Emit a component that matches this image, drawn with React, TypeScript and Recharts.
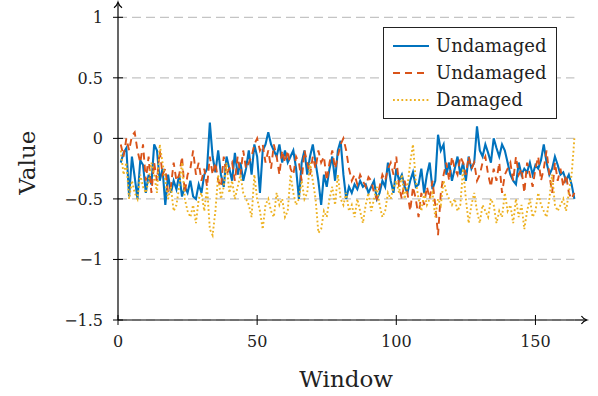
import { LineChart, Line, XAxis, YAxis, CartesianGrid, Legend, Label } from "recharts";

const undamagedA = [
  -0.2, -0.12, -0.08, -0.48, -0.15, -0.32, -0.5, -0.18, -0.22, -0.45,
  -0.3, -0.38, -0.05, -0.1, -0.35, -0.25, -0.55, -0.3, -0.45, -0.35,
  -0.42, -0.3, -0.48, -0.4, -0.45, -0.35, -0.48, -0.5, -0.38, -0.45,
  -0.3, -0.25, 0.13, -0.15, -0.28, -0.1, -0.3, -0.4, -0.15, -0.25,
  -0.35, -0.12, -0.3, -0.2, -0.35, -0.25, -0.1, -0.3, -0.05, -0.15,
  -0.45, -0.1, -0.05, 0.05, -0.05, -0.1, -0.15, -0.05, -0.2, -0.1,
  -0.2, -0.15, -0.1, -0.25, -0.5, -0.2, -0.1, -0.3, -0.15, -0.05,
  -0.2, -0.35, -0.55, -0.3, -0.4, -0.25, -0.15, -0.35, -0.1, -0.02,
  -0.3, -0.5, -0.4, -0.45, -0.38, -0.42, -0.35, -0.4, -0.38, -0.45,
  -0.4, -0.35, -0.5, -0.45, -0.35, -0.4, -0.2, -0.35, -0.45, -0.25,
  -0.35, -0.3, -0.4, -0.45, -0.35, -0.28, -0.4, -0.38, -0.25, -0.45,
  -0.3, -0.2, -0.42, -0.35, 0.03, -0.1, -0.05, -0.3, -0.2, -0.35,
  -0.25, -0.15, -0.3, -0.2, -0.35, -0.15, -0.25, -0.2, 0.1, -0.1,
  -0.15, -0.05, -0.12, -0.2, 0.0, -0.08, -0.15, -0.05, -0.1, -0.2,
  -0.3, -0.35, -0.38, -0.2, -0.3, -0.25, -0.28, -0.2, -0.3, -0.22,
  -0.25, -0.18, -0.05, -0.2, -0.3, -0.25, -0.15, -0.22, -0.3, -0.28,
  -0.35, -0.3, -0.38, -0.5,
];

const undamagedB = [
  -0.05, -0.15, 0.0, -0.1, 0.02, 0.05, -0.1, -0.2, -0.05, -0.35,
  -0.15, -0.45, -0.2, -0.35, -0.1, -0.3, -0.25, -0.45, -0.4, -0.2,
  -0.35, -0.3, -0.15, -0.45, -0.3, -0.25, -0.1, -0.3, -0.2, -0.35,
  -0.25, -0.4, -0.15, -0.3, -0.2, -0.35, -0.4, -0.15, -0.3, -0.25,
  -0.2, -0.35, -0.15, -0.3, -0.1, -0.25, -0.2, -0.15, -0.05, 0.0,
  -0.1, -0.05, -0.2, -0.1, -0.25, -0.05, -0.15, -0.3, -0.1, -0.2,
  -0.1, -0.25, -0.3, -0.15, -0.2, -0.35, -0.1, -0.2, -0.3, -0.15,
  -0.25, -0.1, -0.2, -0.15, -0.35, -0.2, -0.1, -0.25, -0.15, -0.05,
  0.0, -0.1, -0.25, -0.35, -0.3, -0.38, -0.3, -0.35, -0.4, -0.32,
  -0.35, -0.45, -0.5, -0.4, -0.3, -0.35, -0.25, -0.2, -0.3, -0.15,
  -0.4, -0.5, -0.35, -0.45, -0.6, -0.4, -0.5, -0.65, -0.45, -0.55,
  -0.4, -0.5, -0.35, -0.55, -0.8, -0.45, -0.3, -0.2, -0.35, -0.15,
  -0.25, -0.3, -0.15, -0.2, -0.3, -0.15, -0.25, -0.2, -0.35, -0.3,
  -0.2, -0.15, -0.3, -0.4, -0.25, -0.35, -0.2, -0.45, -0.3, -0.25,
  -0.2, -0.35, -0.15, -0.3, -0.25, -0.45, -0.2, -0.3, -0.4, -0.25,
  -0.15, -0.35, -0.25, -0.1, -0.3, -0.45, -0.2, -0.35, -0.25, -0.4,
  -0.3, -0.45, -0.5, -0.45,
];

const damaged = [
  -0.1, -0.3, -0.2, -0.5, -0.35, -0.45, -0.5, -0.3, -0.4, -0.45,
  -0.35, -0.2, -0.3, -0.45, -0.05, -0.2, -0.35, -0.5, -0.4, -0.6,
  -0.55, -0.4, -0.2, -0.5, -0.6, -0.65, -0.55, -0.7, -0.5, -0.45,
  -0.6, -0.4, -0.75, -0.8, -0.6, -0.3, -0.5, -0.4, -0.2, -0.45,
  -0.35, -0.5, -0.4, -0.3, -0.45, -0.5, -0.55, -0.65, -0.3, -0.5,
  -0.6, -0.75, -0.55, -0.5, -0.6, -0.65, -0.45, -0.55, -0.5, -0.65,
  -0.6, -0.3, -0.45, -0.55, -0.5, -0.35, -0.5, -0.45, -0.2, -0.35,
  -0.5, -0.78, -0.75, -0.6, -0.65, -0.5, -0.4, -0.55, -0.3, -0.5,
  -0.55, -0.45, -0.6, -0.55, -0.65, -0.5, -0.6, -0.7, -0.55, -0.45,
  -0.6, -0.5, -0.4, -0.55, -0.65, -0.6, -0.45, -0.5, -0.4, -0.35,
  -0.45, -0.3, -0.5, -0.4, -0.2, -0.05, -0.35, -0.5, -0.6, -0.45,
  -0.55, -0.5, -0.45, -0.65, -0.5, -0.55, -0.35, -0.45, -0.5, -0.55,
  -0.5, -0.6, -0.55, -0.25, -0.5, -0.7, -0.55, -0.45, -0.6, -0.7,
  -0.55, -0.6, -0.65, -0.5, -0.55, -0.7, -0.6, -0.65, -0.45, -0.6,
  -0.55, -0.7, -0.5, -0.65, -0.55, -0.75, -0.6, -0.5, -0.65, -0.6,
  -0.45, -0.55, -0.6, -0.65, -0.5, -0.3, -0.55, -0.6, -0.55, -0.5,
  -0.6, -0.45, -0.3, 0.0,
];

const xTicks = [0, 50, 100, 150];
const yTicks = [-1.5, -1, -0.5, 0, 0.5, 1];

const data = undamagedA.map((v, i) => ({
  window: i + 1,
  a: v,
  b: undamagedB[i],
  c: damaged[i],
}));

const FONT = "DejaVu Serif";

const SERIES = [
  { key: "a", name: "Undamaged", color: "#0072BD", dash: undefined, width: 2.1 },
  { key: "b", name: "Undamaged", color: "#D95319", dash: "7 5", width: 1.9 },
  { key: "c", name: "Damaged", color: "#EDB120", dash: "1.8 2.4", width: 1.9 },
];

const fmt = (v: number) => String(v).replace("-", "\u2212");

function YTick(props: any) {
  const { x, y, payload } = props;
  const ax = x + 15;
  return (
    <g>
      <line x1={ax - 5} x2={ax + 5} y1={y} y2={y} stroke="#000" strokeWidth={1} />
      <text x={x} y={y} dy="0.36em" textAnchor="end" fontFamily={FONT} fontSize={16} fill="#222">
        {fmt(payload.value)}
      </text>
    </g>
  );
}

function XTick(props: any) {
  const { x, y, payload } = props;
  const ay = y - 15;
  return (
    <g>
      <line x1={x} x2={x} y1={ay - 5} y2={ay + 5} stroke="#000" strokeWidth={1} />
      <text x={x} y={y} dy={12} textAnchor="middle" fontFamily={FONT} fontSize={16} fill="#222">
        {fmt(payload.value)}
      </text>
    </g>
  );
}

// legend keeps the series order instead of the sorted payload
function LegendBox(props: any) {
  const { payload = [] } = props;
  const rows = SERIES.map((s) => ({ s, entry: payload.find((p: any) => p.dataKey === s.key) })).filter((r) => r.entry);
  return (
    <div
      style={{
        width: 174,
        height: 92,
        boxSizing: "border-box",
        border: "1.3px solid #222",
        background: "#fff",
        paddingTop: 4,
      }}
    >
      {rows.map(({ s, entry }, i) => (
        <div key={i} style={{ display: "flex", alignItems: "center", height: 27 }}>
          <svg width={52} height={10} style={{ display: "block" }}>
            <line x1={9} x2={45} y1={5} y2={5} stroke={s.color} strokeWidth={s.width} strokeDasharray={s.dash} />
          </svg>
          <span style={{ fontFamily: FONT, fontSize: 18, color: "#222", lineHeight: "27px" }}>{entry.value}</span>
        </div>
      ))}
    </div>
  );
}

export default function App() {
  return (
    <div style={{ position: "absolute", left: 0, top: 0, width: 598, height: 396, background: "#fff" }}>
      <LineChart width={598} height={396} data={data} margin={{ top: 17.3, right: 23.6, left: 18, bottom: 26 }}>
        <defs>
          <marker id="arrowX" markerUnits="userSpaceOnUse" markerWidth={20} markerHeight={20} refX={0} refY={0} orient="auto" overflow="visible">
            <path d="M0,0 L12,0" stroke="#000" strokeWidth={1.2} fill="none" />
            <path d="M7,-4 Q9,-1 12.5,0 Q9,1 7,4" stroke="#000" strokeWidth={1.2} fill="none" />
          </marker>
          <marker id="arrowY" markerUnits="userSpaceOnUse" markerWidth={20} markerHeight={20} refX={0} refY={0} orient="auto-start-reverse" overflow="visible">
            <path d="M0,0 L14.6,0" stroke="#000" strokeWidth={1.2} fill="none" />
            <path d="M9.6,-4 Q11.6,-1 15.1,0 Q11.6,1 9.6,4" stroke="#000" strokeWidth={1.2} fill="none" />
          </marker>
        </defs>
        <CartesianGrid vertical={false} stroke="#c4c4c4" strokeWidth={1.2} strokeDasharray="9 5" />
        <XAxis
          dataKey="window"
          type="number"
          domain={[0, 164]}
          ticks={xTicks}
          height={50}
          tickSize={5}
          tickMargin={10}
          tickLine={false}
          tick={<XTick />}
          axisLine={{ stroke: "#000", strokeWidth: 1.2, markerEnd: "url(#arrowX)" }}
        >
          <Label
            content={(p: any) => {
              const vb = p.viewBox || {};
              return (
                <text x={vb.x + vb.width / 2} y={vb.y + 67} textAnchor="middle" fontFamily={FONT} fontSize={23} fill="#222">
                  Window
                </text>
              );
            }}
          />
        </XAxis>
        <YAxis
          type="number"
          domain={[-1.5, 1]}
          ticks={yTicks}
          width={100}
          tickSize={5}
          tickMargin={10}
          tickLine={false}
          tick={<YTick />}
          axisLine={{ stroke: "#000", strokeWidth: 1.2, markerStart: "url(#arrowY)" }}
        >
          <Label
            content={(p: any) => {
              const vb = p.viewBox || {};
              const cy = vb.y + vb.height / 2 - 6;
              return (
                <text x={35} y={cy} transform={`rotate(-90, 35, ${cy})`} textAnchor="middle" fontFamily={FONT} fontSize={23} fill="#222">
                  Value
                </text>
              );
            }}
          />
        </YAxis>
        <Legend
          layout="vertical"
          align="center"
          verticalAlign="middle"
          content={<LegendBox />}
          wrapperStyle={{ left: 383, top: 27, width: 174, height: 92 }}
        />
        {SERIES.map((s) => (
          <Line
            key={s.key}
            type="linear"
            dataKey={s.key}
            name={s.name}
            stroke={s.color}
            strokeWidth={s.width}
            strokeDasharray={s.dash}
            dot={false}
            activeDot={false}
            isAnimationActive={false}
          />
        ))}
      </LineChart>
    </div>
  );
}
